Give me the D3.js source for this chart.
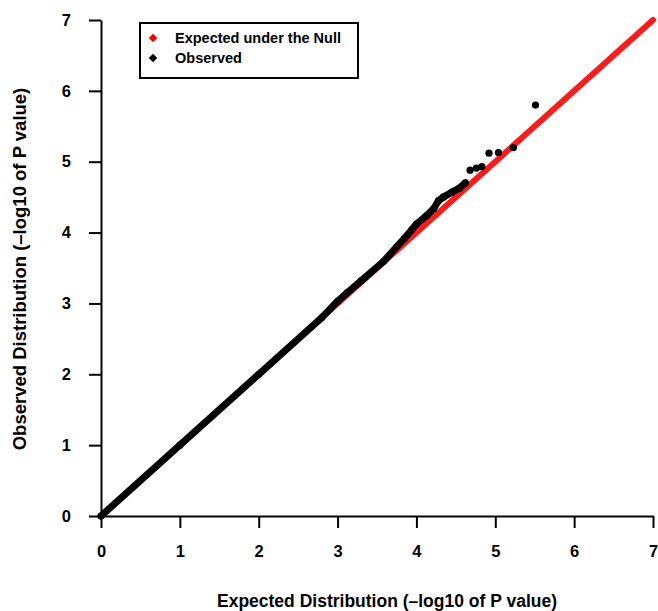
<!doctype html>
<html lang="en">
  <head>
    <meta charset="UTF-8" />
    <title>QQ plot</title>
    <script src="https://d3js.org/d3.v7.min.js"></script>
    <style>
      body {
        margin: 0;
        background: #fff;
        font-family: 'Liberation Sans', Arial, sans-serif;
      }
      .axis text {
        font-size: 16.5px;
        font-weight: bold;
        fill: #000;
      }
      .axis path,
      .axis line {
        stroke: #000;
        stroke-width: 2;
      }
      .axis-title {
        font-size: 17.5px;
        font-weight: bold;
      }
      .legend-text {
        font-size: 14.5px;
        font-weight: bold;
      }
    </style>
  </head>
  <body>
    <svg id="chart"></svg>
    <script>
      const W = 658
      const H = 611
      const margin = { top: 20, right: 5, bottom: 95, left: 101 }
      const width = W - margin.left - margin.right
      const height = H - margin.top - margin.bottom

      // axis ticks
      const ticks = [0, 1, 2, 3, 4, 5, 6, 7]

      // expected under the null: y = x reference
      const expected = [
        [0, 0],
        [7, 7],
      ]

      // observed (-log10 p), dense part read along the diagonal
      const observedDense = [
        [0, 0], [1, 1], [2, 2], [2.8, 2.8], [3.0, 3.03], [3.12, 3.15], [3.3, 3.32],
        [3.58, 3.59], [3.75, 3.8], [3.85, 3.92], [3.94, 4.04], [4.0, 4.12],
        [4.13, 4.24], [4.22, 4.34], [4.28, 4.45], [4.34, 4.5], [4.45, 4.57],
        [4.55, 4.63], [4.62, 4.7],
      ]

      // observed top tail, separate points
      const observedTail = [
        [4.68, 4.88], [4.76, 4.91], [4.83, 4.93], [4.92, 5.12],
        [5.04, 5.13], [5.23, 5.2], [5.51, 5.8],
      ]

      const legendItems = [
        { label: 'Expected under the Null', color: '#ff0000' },
        { label: 'Observed', color: '#000000' },
      ]

      const svg = d3.select('#chart').attr('width', W).attr('height', H)
      const g = svg.append('g').attr('transform', `translate(${margin.left},${margin.top})`)

      const x = d3.scaleLinear().domain([0, 7]).range([0, width])
      const y = d3.scaleLinear().domain([0, 7]).range([height, 0])

      // axes
      g.append('g')
        .attr('class', 'axis')
        .attr('transform', `translate(0,${height})`)
        .call(d3.axisBottom(x).tickValues(ticks).tickFormat(d3.format('d')).tickSize(12).tickSizeOuter(0).tickPadding(17))

      g.append('g')
        .attr('class', 'axis')
        .call(d3.axisLeft(y).tickValues(ticks).tickFormat(d3.format('d')).tickSize(12).tickSizeOuter(0).tickPadding(18))

      const line = d3
        .line()
        .x((d) => x(d[0]))
        .y((d) => y(d[1]))

      // expected line (red points)
      g.append('path')
        .datum(expected)
        .attr('d', line)
        .attr('fill', 'none')
        .attr('stroke', '#ff1a1a')
        .attr('stroke-width', 6)
        .attr('stroke-linecap', 'round')

      // observed
      g.append('path')
        .datum(observedDense)
        .attr('d', line)
        .attr('fill', 'none')
        .attr('stroke', '#000')
        .attr('stroke-width', 7)
        .attr('stroke-linecap', 'round')
        .attr('stroke-linejoin', 'round')

      g.selectAll('.obs')
        .data(observedDense.concat(observedTail))
        .enter()
        .append('circle')
        .attr('class', 'obs')
        .attr('cx', (d) => x(d[0]))
        .attr('cy', (d) => y(d[1]))
        .attr('r', 3.6)
        .attr('fill', '#000')

      // axis titles
      svg.append('text')
        .attr('class', 'axis-title')
        .attr('x', 387)
        .attr('y', 607)
        .attr('text-anchor', 'middle')
        .text('Expected Distribution (\u2013log10 of P value)')

      svg.append('text')
        .attr('class', 'axis-title')
        .attr('transform', 'translate(26,269) rotate(-90)')
        .attr('text-anchor', 'middle')
        .style('font-size', '18.5px')
        .text('Observed Distribution (\u2013log10 of P value)')

      // legend
      const legend = svg.append('g').attr('transform', 'translate(140,23)')
      legend.append('rect')
        .attr('width', 218)
        .attr('height', 55)
        .attr('fill', '#fff')
        .attr('stroke', '#000')
        .attr('stroke-width', 2)

      legendItems.forEach((d, i) => {
        const row = legend.append('g').attr('transform', `translate(0,${15 + i * 20})`)
        row.append('path')
          .attr('d', d3.symbol(d3.symbolSquare, 36)())
          .attr('transform', 'translate(13,0) rotate(45)')
          .attr('fill', d.color)
        row.append('text')
          .attr('class', 'legend-text')
          .attr('x', 35)
          .attr('y', 5)
          .text(d.label)
      })
    </script>
  </body>
</html>
